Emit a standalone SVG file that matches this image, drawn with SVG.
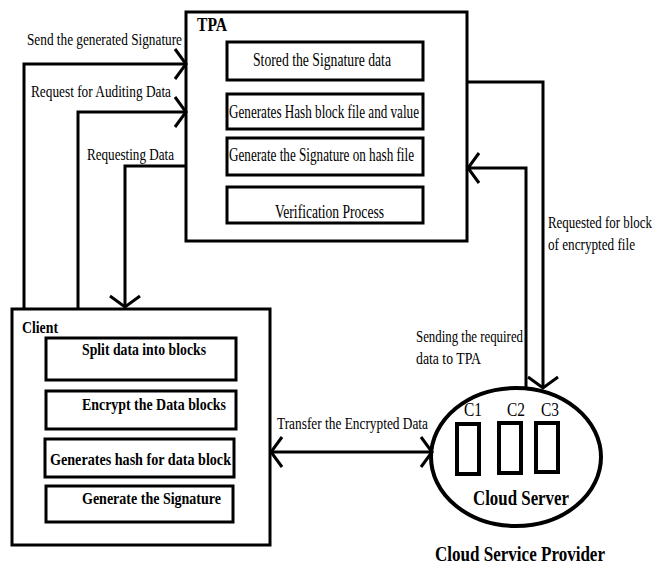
<svg xmlns="http://www.w3.org/2000/svg" width="656" height="566" viewBox="0 0 656 566">
<style>
.box{fill:#fff;stroke:#000;stroke-width:3}
.inner{fill:#fff;stroke:#000;stroke-width:3}
.cell{fill:#fff;stroke:#000;stroke-width:4}
.conn{fill:none;stroke:#000;stroke-width:3}
text{font-family:"Liberation Serif","DejaVu Serif","Times New Roman",serif;fill:#000}
.lbl{font-size:16px}
.in{font-size:18px}
.b{font-weight:bold}
</style>
<defs>
<marker id="ah" markerUnits="userSpaceOnUse" markerWidth="30" markerHeight="40" viewBox="-15 -20 30 40" refX="0" refY="0" orient="auto-start-reverse" overflow="visible">
<path d="M-11,-15 L0,0 L-11,15" fill="none" stroke="#000" stroke-width="3"/>
</marker>
</defs>
<rect width="656" height="566" fill="#fff"/>

<g id="tpa">
<rect class="box" x="186" y="12" width="281" height="229"/>
<text class="b" x="197" y="31" font-size="18" textLength="30" lengthAdjust="spacingAndGlyphs">TPA</text>
<rect class="inner" x="227" y="42" width="196" height="38"/>
<text class="in" x="253" y="66" textLength="138" lengthAdjust="spacingAndGlyphs">Stored the Signature data</text>
<rect class="inner" x="227" y="94" width="196" height="35"/>
<text class="in" x="229" y="118" textLength="190" lengthAdjust="spacingAndGlyphs">Generates Hash block file and value</text>
<rect class="inner" x="227" y="138" width="196" height="37"/>
<text class="in" x="229" y="161" textLength="185" lengthAdjust="spacingAndGlyphs">Generate the Signature on hash file</text>
<rect class="inner" x="227" y="187" width="196" height="36"/>
<text class="in" x="275" y="218" textLength="109" lengthAdjust="spacingAndGlyphs">Verification Process</text>
</g>

<g id="client">
<rect class="box" x="12" y="309" width="258" height="236"/>
<text class="b" x="22" y="333" font-size="17" textLength="36" lengthAdjust="spacingAndGlyphs">Client</text>
<rect class="inner" x="46" y="338" width="190" height="42"/>
<text class="b" x="82" y="355" font-size="17" textLength="124" lengthAdjust="spacingAndGlyphs">Split data into blocks</text>
<rect class="inner" x="46" y="391" width="190" height="38"/>
<text class="b" x="82" y="410" font-size="17" textLength="144" lengthAdjust="spacingAndGlyphs">Encrypt the Data blocks</text>
<rect class="inner" x="45" y="439" width="189" height="38"/>
<text class="b" x="50" y="465" font-size="17" textLength="181" lengthAdjust="spacingAndGlyphs">Generates hash for data block</text>
<rect class="inner" x="46" y="486" width="187" height="36"/>
<text class="b" x="82" y="504" font-size="17" textLength="139" lengthAdjust="spacingAndGlyphs">Generate the Signature</text>
</g>

<g id="cloud">
<ellipse cx="516" cy="457" rx="85" ry="69" fill="#fff" stroke="#000" stroke-width="4"/>
<text x="464" y="416" font-size="18" textLength="18" lengthAdjust="spacingAndGlyphs">C1</text>
<text x="507" y="416" font-size="18" textLength="18" lengthAdjust="spacingAndGlyphs">C2</text>
<text x="541" y="416" font-size="18" textLength="18" lengthAdjust="spacingAndGlyphs">C3</text>
<rect class="cell" x="457" y="424" width="22" height="50"/>
<rect class="cell" x="499" y="423" width="22" height="50"/>
<rect class="cell" x="536" y="423" width="22" height="49"/>
<text class="b" x="473" y="505" font-size="20" textLength="96" lengthAdjust="spacingAndGlyphs">Cloud Server</text>
<text class="b" x="435" y="561" font-size="20" textLength="170" lengthAdjust="spacingAndGlyphs">Cloud Service Provider</text>
</g>

<g id="connectors">
<polyline class="conn" points="24,309 24,64 186,64" marker-end="url(#ah)"/>
<polyline class="conn" points="78,309 78,112 186,112" marker-end="url(#ah)"/>
<polyline class="conn" points="187,166 125,166 125,307" marker-end="url(#ah)"/>
<polyline class="conn" points="467,82 543,82 543,388" marker-end="url(#ah)"/>
<polyline class="conn" points="526,390 526,168 468,168" marker-end="url(#ah)"/>
<line class="conn" x1="271" y1="452" x2="432" y2="452" marker-start="url(#ah)" marker-end="url(#ah)"/>
<text class="lbl" x="27" y="45" textLength="155" lengthAdjust="spacingAndGlyphs">Send the generated Signature</text>
<text class="lbl" x="31" y="97" textLength="140" lengthAdjust="spacingAndGlyphs">Request for Auditing Data</text>
<text class="lbl" x="87" y="160" textLength="87" lengthAdjust="spacingAndGlyphs">Requesting Data</text>
<text class="lbl" x="548" y="228" textLength="104" lengthAdjust="spacingAndGlyphs">Requested for block</text>
<text class="lbl" x="548" y="250" textLength="87" lengthAdjust="spacingAndGlyphs">of encrypted file</text>
<text class="lbl" x="416" y="342" textLength="107" lengthAdjust="spacingAndGlyphs">Sending the required</text>
<text class="lbl" x="416" y="364" textLength="65" lengthAdjust="spacingAndGlyphs">data to TPA</text>
<text class="lbl" x="277" y="429" textLength="151" lengthAdjust="spacingAndGlyphs">Transfer the Encrypted Data</text>
</g>
</svg>
